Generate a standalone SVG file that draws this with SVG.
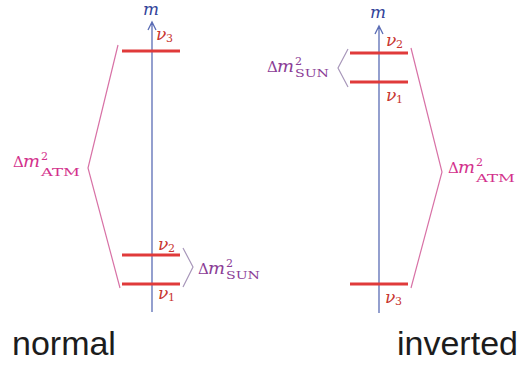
<svg xmlns="http://www.w3.org/2000/svg" width="519" height="366" viewBox="0 0 519 366">
<style>
.axis{stroke:#5b6db5;stroke-width:1.3;fill:none}
.lvl{stroke:#e03a3a;stroke-width:3}
.atmb{stroke:#d872a6;stroke-width:1.2;fill:none}
.sunb{stroke:#a897ba;stroke-width:1.2;fill:none}
.m{font-family:"DejaVu Serif",serif;font-style:italic;font-size:17px;fill:#33449a}
.nu{font-family:"DejaVu Serif",serif;font-style:italic;font-size:17px;fill:#c83530}
.nus{font-family:"DejaVu Serif",serif;font-size:11px;fill:#c83530}
.atm{font-family:"DejaVu Serif",serif;fill:#d3318c}
.sun{font-family:"DejaVu Serif",serif;fill:#8b3d96}
.big{font-size:15px}
.it{font-style:italic;font-size:17px}
.sm{font-size:11px}
.lab{font-family:"Liberation Sans",Arial,sans-serif;font-size:34px;fill:#1c1c1c}
</style>
<rect width="519" height="366" fill="#ffffff"/>
<g id="axis-normal">
<path class="axis" d="M152,312 V22 M148,30 L152,22 L156,30"/>
<text class="m" x="143" y="15" textLength="16" lengthAdjust="spacingAndGlyphs">m</text>
</g>
<g id="axis-inverted">
<path class="axis" d="M379,313 V26 M375,34 L379,26 L383,34"/>
<text class="m" x="370" y="18" textLength="16" lengthAdjust="spacingAndGlyphs">m</text>
</g>
<g id="normal-nu3">
<line class="lvl" x1="122" y1="51" x2="180" y2="51"/>
<text class="nu" x="156" y="40">ν</text><text class="nus" x="166" y="42">3</text>
</g>
<g id="normal-nu2">
<line class="lvl" x1="122" y1="255" x2="180" y2="255"/>
<text class="nu" x="158" y="250">ν</text><text class="nus" x="168" y="252">2</text>
</g>
<g id="normal-nu1">
<line class="lvl" x1="122" y1="284" x2="180" y2="284"/>
<text class="nu" x="158" y="299">ν</text><text class="nus" x="168" y="301">1</text>
</g>
<g id="inverted-nu2">
<line class="lvl" x1="350" y1="53" x2="408" y2="53"/>
<text class="nu" x="386" y="46">ν</text><text class="nus" x="396" y="48">2</text>
</g>
<g id="inverted-nu1">
<line class="lvl" x1="350" y1="82" x2="408" y2="82"/>
<text class="nu" x="386" y="101">ν</text><text class="nus" x="396" y="103">1</text>
</g>
<g id="inverted-nu3">
<line class="lvl" x1="350" y1="284" x2="408" y2="284"/>
<text class="nu" x="385" y="303">ν</text><text class="nus" x="395" y="305">3</text>
</g>
<g id="connectors">
<polyline class="atmb" points="118,45 88,168 120,288"/>
<polyline class="sunb" points="183,248 193,267 183,287"/>
<polyline class="sunb" points="348,49 338,68 348,87"/>
<polyline class="atmb" points="411,48 442,172 411,288"/>
</g>
<g id="atm-normal">
<text class="atm big" x="13" y="167">Δ</text>
<text class="atm it" x="23" y="167" textLength="17" lengthAdjust="spacingAndGlyphs">m</text>
<text class="atm sm" x="41" y="160">2</text>
<text class="atm" x="41" y="176" font-size="11" textLength="39" lengthAdjust="spacingAndGlyphs">ATM</text>
</g>
<g id="atm-inverted">
<text class="atm big" x="448" y="173">Δ</text>
<text class="atm it" x="458" y="173" textLength="17" lengthAdjust="spacingAndGlyphs">m</text>
<text class="atm sm" x="476" y="166">2</text>
<text class="atm" x="476" y="182" font-size="11" textLength="39" lengthAdjust="spacingAndGlyphs">ATM</text>
</g>
<g id="sun-normal">
<text class="sun big" x="198" y="274">Δ</text>
<text class="sun it" x="208" y="274" textLength="17" lengthAdjust="spacingAndGlyphs">m</text>
<text class="sun sm" x="226" y="267">2</text>
<text class="sun" x="226" y="279" font-size="11" textLength="34" lengthAdjust="spacingAndGlyphs">SUN</text>
</g>
<g id="sun-inverted">
<text class="sun big" x="267" y="72">Δ</text>
<text class="sun it" x="277" y="72" textLength="17" lengthAdjust="spacingAndGlyphs">m</text>
<text class="sun sm" x="295" y="65">2</text>
<text class="sun" x="295" y="77" font-size="11" textLength="34" lengthAdjust="spacingAndGlyphs">SUN</text>
</g>
<text class="lab" x="12" y="355">normal</text>
<text class="lab" x="397" y="355">inverted</text>
</svg>
